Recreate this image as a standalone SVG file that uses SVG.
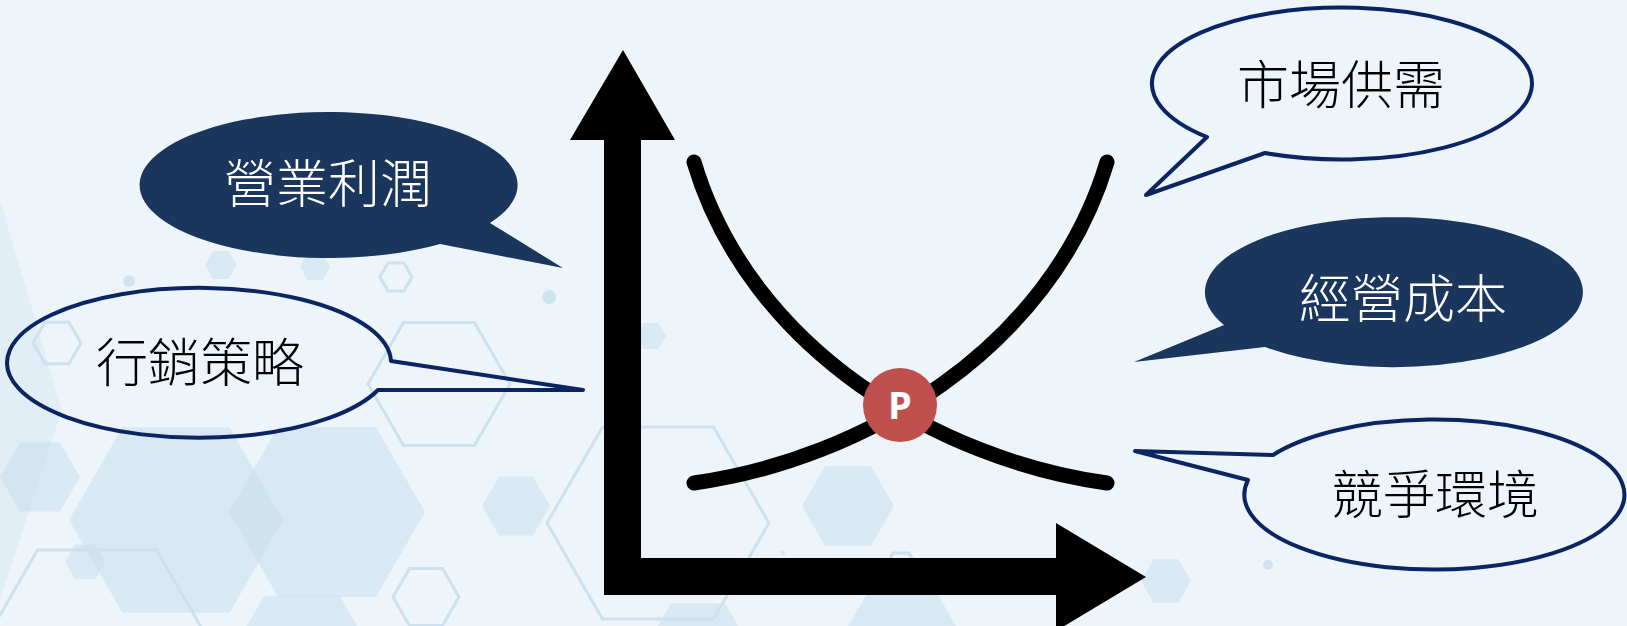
<svg xmlns="http://www.w3.org/2000/svg" width="1627" height="626" viewBox="0 0 1627 626">
<style>
.bg{fill:#EDF5FA}
.hf{fill:#C9DFEE;opacity:0.55}
.ho{fill:none;stroke:#CDE0EE;stroke-width:3}
.dot{fill:#CFE3F1}
.curve{fill:none;stroke:#000;stroke-width:15;stroke-linecap:round}
.axis{fill:#000}
.bubble-dark{fill:#1B365D;stroke:none}
.bubble-line{fill:none;stroke:#0B2563;stroke-width:4;stroke-linejoin:round}
.lbl{font-family:"Noto Sans CJK TC","Noto Sans CJK SC",sans-serif;font-size:52px;font-weight:300;text-anchor:middle}
.lbl-w{fill:#FFFFFF}
.lbl-b{fill:#000000}
.ptxt{font-family:"Open Sans","Liberation Sans",sans-serif;font-size:38px;font-weight:700;fill:#FFFFFF;text-anchor:middle}
</style>
<rect class="bg" x="0" y="0" width="1627" height="626"/>
<g id="background">
<polygon class="hf" style="opacity:0.3" points="0,200 62,410 0,600"/>
<polygon class="hf" points="283,520 229.5,612.7 122.5,612.7 69,520 122.5,427.3 229.5,427.3"/>
<polygon class="hf" points="425,512 376,596.9 278,596.9 229,512 278,427.1 376,427.1"/>
<polygon class="hf" points="80,477 60,511.6 20,511.6 0,477 20,442.4 60,442.4"/>
<polygon class="hf" points="550,506 533,535.4 499,535.4 482,506 499,476.6 533,476.6"/>
<polygon class="hf" points="105,562 95,579.3 75,579.3 65,562 75,544.7 95,544.7"/>
<polygon class="hf" points="378,662 340,727.8 264,727.8 226,662 264,596.2 340,596.2"/>
<polygon class="hf" points="894,506 871,545.8 825,545.8 802,506 825,466.2 871,466.2"/>
<polygon class="hf" points="1191,581 1178.5,602.65 1153.5,602.65 1141,581 1153.5,559.35 1178.5,559.35"/>
<polygon class="hf" points="237,265 229,278.9 213,278.9 205,265 213,251.1 229,251.1"/>
<polygon class="hf" points="330,267 322.5,280 307.5,280 300,267 307.5,254 322.5,254"/>
<polygon class="hf" points="666,336 658.5,349 643.5,349 636,336 643.5,323 658.5,323"/>
<polygon class="hf" points="964,640 933,693.7 871,693.7 840,640 871,586.3 933,586.3"/>
<polygon class="hf" points="752,650 725,696.8 671,696.8 644,650 671,603.2 725,603.2"/>
<polygon class="ho" points="510,384 474.5,445.5 403.5,445.5 368,384 403.5,322.5 474.5,322.5"/>
<polygon class="ho" points="412,277 404,290.9 388,290.9 380,277 388,263.1 404,263.1"/>
<polygon class="ho" points="459,597 442.5,625.6 409.5,625.6 393,597 409.5,568.4 442.5,568.4"/>
<polygon class="ho" points="769,523 713.5,619.1 602.5,619.1 547,523 602.5,426.9 713.5,426.9"/>
<polygon class="ho" points="216,653 156.5,756 37.5,756 -22,653 37.5,550 156.5,550"/>
<polygon class="ho" points="81,343 69,363.8 45,363.8 33,343 45,322.2 69,322.2"/>
<polygon class="ho" points="917,567 909,580.9 893,580.9 885,567 893,553.1 909,553.1"/>
<circle class="dot" cx="129" cy="281" r="6"/>
<circle class="dot" cx="549" cy="297" r="7"/>
<circle class="dot" cx="1268" cy="565" r="5"/>
<circle class="dot" cx="783" cy="553" r="2"/>
</g>
<g id="axes">
<path class="axis" d="M623,50 L675,140 L641,140 L641,558 L1056,558 L1056,523 L1146,577 L1056,631 L1056,595 L604,595 L604,140 L570,140 Z"/>
</g>
<g id="connectors">
<path class="curve" d="M694,162 C750,350 940,460 1107,483"/>
<path class="curve" d="M1107,162 C1051,350 861,460 694,483"/>
</g>
<g id="node-p">
<circle cx="900" cy="405" r="37" fill="#C0504D"/>
<text class="ptxt" x="900" y="419">P</text>
</g>
<g id="node-profit">
<path class="bubble-dark" d="M490,223 L563,268 L440,244 A189 73 0 1 1 490,223 Z"/>
<text class="lbl lbl-w" x="328" y="203">營業利潤</text>
</g>
<g id="node-marketing">
<path class="bubble-line" d="M391,361 L583,390 L378,390 A192 75 0 1 1 391,361 Z"/>
<text class="lbl lbl-b" x="200" y="382">行銷策略</text>
</g>
<g id="node-market">
<path class="bubble-line" d="M1265,153 L1146,195 L1207,137 A190 76 0 1 1 1265,153 Z"/>
<text class="lbl lbl-b" x="1341" y="104">市場供需</text>
</g>
<g id="node-cost">
<path class="bubble-dark" d="M1265,347 L1134,362 L1224,325 A189 75 0 1 1 1265,347 Z"/>
<text class="lbl lbl-w" x="1403" y="318">經營成本</text>
</g>
<g id="node-competition">
<path class="bubble-line" d="M1273,455 L1135,451 L1248,480 A190 75 0 1 0 1273,455 Z"/>
<text class="lbl lbl-b" x="1435" y="514">競爭環境</text>
</g>
</svg>
